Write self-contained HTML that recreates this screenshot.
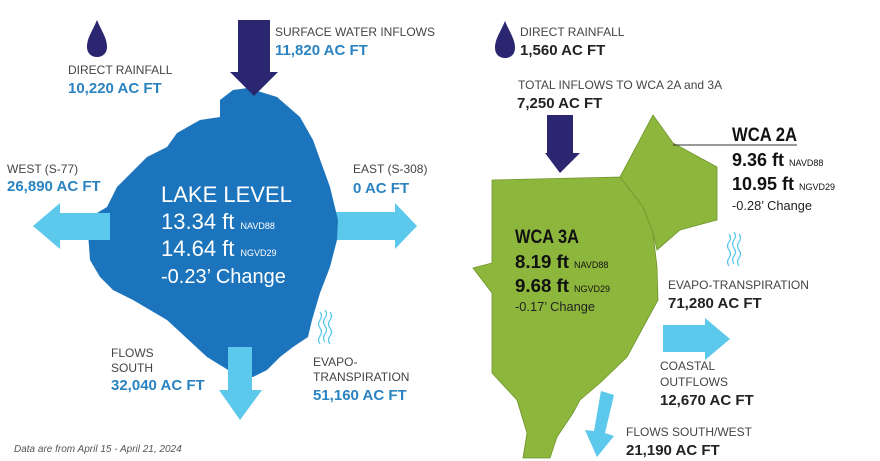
<!DOCTYPE html>
<html><head><meta charset="utf-8"><style>
body{margin:0;background:#fff;width:880px;height:461px;overflow:hidden}
svg{display:block}
</style></head><body>
<svg width="880" height="461" viewBox="0 0 880 461" xmlns="http://www.w3.org/2000/svg">
<defs>
<g id="waves" fill="none" stroke-width="1.3">
<path d="M2 0 q3 4 0 8 q-3 4 0 8 q3 4 0 8 q-3 4 0 8"/>
<path d="M7 -2 q3 4 0 8 q-3 4 0 8 q3 4 0 8 q-3 4 0 8"/>
<path d="M12 0 q3 4 0 8 q-3 4 0 8 q3 4 0 8 q-3 4 0 8"/>
</g>
</defs>
<!-- LEFT -->
<polygon fill="#5bc8ec" points="330,212 395,212 395,203 417,226 395,249 395,240 330,240"/>
<polygon fill="#1c75bc" points="248,88 277,97 300,117 313,140 330,187 338,220 337,240 330,267 320,293 312,320 308,337 293,347 280,357 267,370 253,377 233,373 207,357 167,320 133,300 113,290 100,277 90,260 88,233 97,213 107,207 117,187 147,157 167,147 177,133 200,120 220,117 220,100 233,90"/>
<polygon fill="#5bc8ec" points="33,226 60,203 60,213 110,213 110,240 60,240 60,249"/>
<polygon fill="#5bc8ec" points="228,347 252,347 252,390 262,390 240,420 219,390 228,390"/>
<polygon fill="#2a2670" points="238,20 270,20 270,72 278,72 254,96 230,72 238,72"/>
<path fill="#2a2670" d="M97 20 C92 32 87 38 87 47 C87 53 91 57 97 57 C103 57 107 53 107 47 C107 38 102 32 97 20Z"/>
<use href="#waves" x="318" y="312" stroke="#5bc8ec"/>
<g font-family="Liberation Sans, sans-serif">
<text x="275" y="36" font-size="12" fill="#444">SURFACE WATER INFLOWS</text>
<text x="275" y="55" font-size="15" font-weight="bold" fill="#2b83c2">11,820 AC FT</text>
<text x="68" y="74" font-size="12" fill="#444">DIRECT RAINFALL</text>
<text x="68" y="93" font-size="15" font-weight="bold" fill="#2b83c2">10,220 AC FT</text>
<text x="7" y="173" font-size="12" fill="#444">WEST (S-77)</text>
<text x="7" y="191" font-size="15" font-weight="bold" fill="#2b83c2">26,890 AC FT</text>
<text x="353" y="173" font-size="12" fill="#444">EAST (S-308)</text>
<text x="353" y="193" font-size="15" font-weight="bold" fill="#2b83c2">0 AC FT</text>
<text x="161" y="202" font-size="22" fill="#fff">LAKE LEVEL</text>
<text x="161" y="229" font-size="22" fill="#fff">13.34 ft <tspan font-size="9">NAVD88</tspan></text>
<text x="161" y="256" font-size="22" fill="#fff">14.64 ft <tspan font-size="9">NGVD29</tspan></text>
<text x="161" y="283" font-size="20" fill="#fff">-0.23’ Change</text>
<text x="111" y="357" font-size="12" fill="#444">FLOWS</text>
<text x="111" y="372" font-size="12" fill="#444">SOUTH</text>
<text x="111" y="390" font-size="15" font-weight="bold" fill="#2b83c2">32,040 AC FT</text>
<text x="313" y="366" font-size="12" fill="#444">EVAPO-</text>
<text x="313" y="381" font-size="12" fill="#444">TRANSPIRATION</text>
<text x="313" y="400" font-size="15" font-weight="bold" fill="#2b83c2">51,160 AC FT</text>
<text x="14" y="452" font-size="10" font-style="italic" fill="#555">Data are from April 15 - April 21, 2024</text>
</g>
<!-- RIGHT -->
<polygon fill="#8db63c" stroke="#6f942c" stroke-width="0.8" points="620,177 653,115 673,143 717,167 717,220 680,230 657,250 653,233 643,207"/>
<polygon fill="#8db63c" stroke="#6f942c" stroke-width="0.8" points="492,180 620,177 643,207 653,233 657,267 658,300 640,333 627,357 600,383 580,400 573,413 557,437 550,458 523,458 527,433 517,400 492,373 492,293 473,268 492,263"/>
<line x1="673" y1="145" x2="797" y2="145" stroke="#333" stroke-width="1"/>
<polygon fill="#2a2670" points="547,115 573,115 573,153 580,153 560,173 545,153 547,153"/>
<path fill="#2a2670" d="M505 21 C500 33 495 39 495 48 C495 54 499 58 505 58 C511 58 515 54 515 48 C515 39 510 33 505 21Z"/>
<polygon fill="#5bc8ec" points="663,325 705,325 705,318 730,339 705,360 705,352 663,352"/>
<polygon fill="#5bc8ec" points="601,391 614,395 605,433 614,436 597,457 585,430 594,431"/>
<use href="#waves" x="727" y="234" stroke="#5bc8ec"/>
<g font-family="Liberation Sans, sans-serif">
<text x="520" y="36" font-size="12" fill="#444">DIRECT RAINFALL</text>
<text x="520" y="55" font-size="15" font-weight="bold" fill="#222">1,560 AC FT</text>
<text x="518" y="89" font-size="12" fill="#444">TOTAL INFLOWS TO WCA 2A and 3A</text>
<text x="517" y="108" font-size="15" font-weight="bold" fill="#222">7,250 AC FT</text>
<text x="732" y="141" font-size="19" font-weight="bold" fill="#111" textLength="65" lengthAdjust="spacingAndGlyphs">WCA 2A</text>
<text x="732" y="166" font-size="18" font-weight="bold" fill="#111"><tspan textLength="52" lengthAdjust="spacingAndGlyphs">9.36 ft</tspan> <tspan font-size="9" font-weight="normal">NAVD88</tspan></text>
<text x="732" y="190" font-size="18" font-weight="bold" fill="#111"><tspan textLength="62" lengthAdjust="spacingAndGlyphs">10.95 ft</tspan> <tspan font-size="9" font-weight="normal">NGVD29</tspan></text>
<text x="732" y="210" font-size="13" fill="#222" textLength="80" lengthAdjust="spacingAndGlyphs">-0.28’ Change</text>
<text x="515" y="243" font-size="19" font-weight="bold" fill="#111" textLength="64" lengthAdjust="spacingAndGlyphs">WCA 3A</text>
<text x="515" y="268" font-size="18" font-weight="bold" fill="#111"><tspan textLength="54" lengthAdjust="spacingAndGlyphs">8.19 ft</tspan> <tspan font-size="9" font-weight="normal">NAVD88</tspan></text>
<text x="515" y="292" font-size="18" font-weight="bold" fill="#111"><tspan textLength="54" lengthAdjust="spacingAndGlyphs">9.68 ft</tspan> <tspan font-size="9" font-weight="normal">NGVD29</tspan></text>
<text x="515" y="311" font-size="13" fill="#222" textLength="80" lengthAdjust="spacingAndGlyphs">-0.17’ Change</text>
<text x="668" y="289" font-size="12" fill="#444">EVAPO-TRANSPIRATION</text>
<text x="668" y="308" font-size="15" font-weight="bold" fill="#222">71,280 AC FT</text>
<text x="660" y="370" font-size="12" fill="#444">COASTAL</text>
<text x="660" y="386" font-size="12" fill="#444">OUTFLOWS</text>
<text x="660" y="405" font-size="15" font-weight="bold" fill="#222">12,670 AC FT</text>
<text x="626" y="436" font-size="12" fill="#444">FLOWS SOUTH/WEST</text>
<text x="626" y="455" font-size="15" font-weight="bold" fill="#222">21,190 AC FT</text>
</g>
</svg>
</body></html>
